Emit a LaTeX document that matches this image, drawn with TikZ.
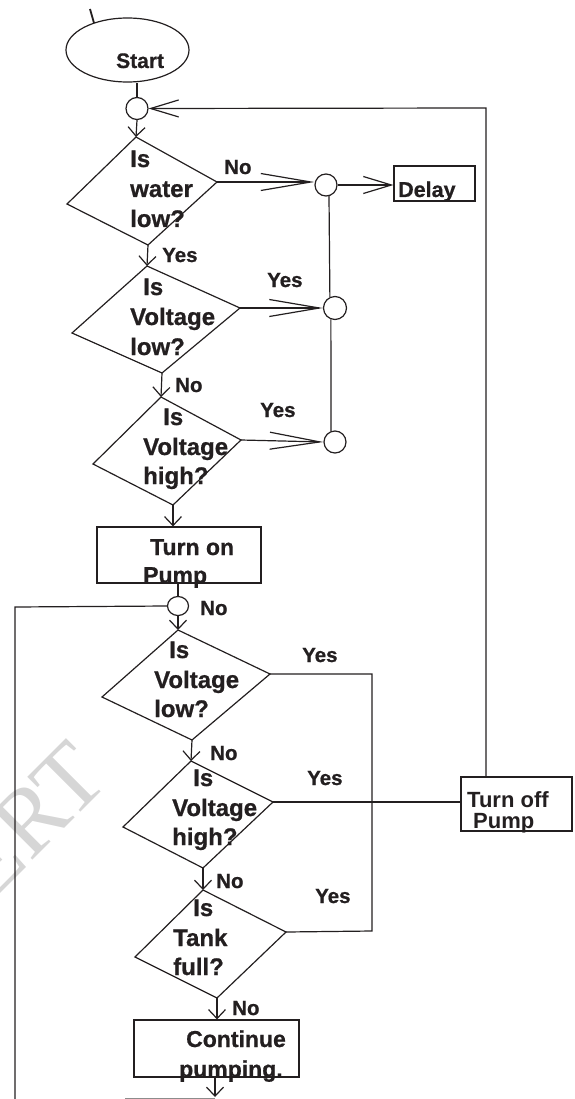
\documentclass[tikz,border=0pt]{standalone}
\usepackage{fontspec}
\setmainfont{Liberation Sans}[BoldFeatures={FakeBold=0.8}]
\newfontfamily\offfont{Liberation Sans}
\newfontfamily\wmfont{Liberation Serif}
\usetikzlibrary{arrows.meta,shapes.geometric,calc}
\definecolor{ink}{HTML}{231F20}
\tikzset{
  line/.style={draw=ink, line width=1.2pt},
  arr/.style={-{Straight Barb[length=9pt,width=17pt]}},
  midarr/.style={-{Straight Barb[length=28pt,width=17pt]}},
  longarr/.style={-{Straight Barb[length=50pt,width=17pt]}},
  circ/.style={circle, line, minimum size=22pt, inner sep=0pt},
  boxn/.style={rectangle, line, inner sep=0pt},
  qtxt/.style={anchor=base west, inner sep=0pt, text=ink, font=\bfseries\fontsize{24}{30}\selectfont},
  btxt/.style={anchor=base west, inner sep=0pt, text=ink, font=\bfseries\fontsize{23}{28}\selectfont},
  rtxt/.style={anchor=base west, inner sep=0pt, text=ink, font=\offfont\bfseries\fontsize{22}{26}\selectfont},
  stxt/.style={anchor=base west, inner sep=0pt, text=ink, font=\bfseries\fontsize{21}{26}\selectfont},
  lbl/.style={anchor=base west, inner sep=0pt, text=ink, font=\bfseries\fontsize{20.5}{24}\selectfont},
  wm/.style={inner sep=0pt, text=black!16, font=\wmfont\fontsize{95}{100}\selectfont}
}
\begin{document}
\begin{tikzpicture}[x=1pt,y=-1pt]
\useasboundingbox (0,0) rectangle (574,1099);
% watermark
\node[wm, rotate=45, anchor=base east] (wmark) at (112,781) {NCERT};

% small tick at top
\coordinate (tk1) at (90,9);
\coordinate (tk2) at (94,23);
\draw[line, line width=1.8pt] (tk1) -- (tk2);

% start
\node[ellipse, line, minimum width=123pt, minimum height=64pt, inner sep=0pt] (start) at (127.5,50) {};
\node[stxt] (starttxt) at (116,68) {Start};

% circles
\node[circ] (c1) at (137,108.5) {};
\node[circ] (c2) at (326,185) {};
\node[circ, minimum size=23pt] (c3) at (335,308) {};
\node[circ] (c4) at (335,442) {};
\node[circ, minimum width=21pt, minimum height=19pt, ellipse] (c5) at (178,606) {};

% diamonds
\coordinate (d1t) at (136,137); \coordinate (d1r) at (217,182);
\coordinate (d1b) at (148,245); \coordinate (d1l) at (67,204);
\coordinate (d2t) at (147,266); \coordinate (d2r) at (240,308);
\coordinate (d2b) at (162,373); \coordinate (d2l) at (72,333);
\coordinate (d3t) at (161,397); \coordinate (d3r) at (241,440);
\coordinate (d3b) at (173,505); \coordinate (d3l) at (93,464);
\coordinate (d4t) at (178,630); \coordinate (d4r) at (270,674);
\coordinate (d4b) at (192,740); \coordinate (d4l) at (102,697);
\coordinate (d5t) at (191,761); \coordinate (d5r) at (273,802);
\coordinate (d5b) at (203,868); \coordinate (d5l) at (123,827);
\coordinate (d6t) at (203,890); \coordinate (d6r) at (286,932);
\coordinate (d6b) at (217,998); \coordinate (d6l) at (135,957);
\draw[line] (d1t) -- (d1r) -- (d1b) -- (d1l) -- cycle;
\draw[line] (d2t) -- (d2r) -- (d2b) -- (d2l) -- cycle;
\draw[line] (d3t) -- (d3r) -- (d3b) -- (d3l) -- cycle;
\draw[line] (d4t) -- (d4r) -- (d4b) -- (d4l) -- cycle;
\draw[line] (d5t) -- (d5r) -- (d5b) -- (d5l) -- cycle;
\draw[line] (d6t) -- (d6r) -- (d6b) -- (d6l) -- cycle;

% boxes
\node[boxn, minimum width=81pt, minimum height=35pt] (delay) at (434.5,183.5) {};
\node[boxn, minimum width=164pt, minimum height=56pt] (onbox) at (179,555) {};
\node[boxn, minimum width=111pt, minimum height=54pt] (offbox) at (516.5,804) {};
\node[boxn, minimum width=165pt, minimum height=57pt] (contbox) at (216.5,1048.5) {};

% texts in diamonds
\node[qtxt] (q1a) at (130,167) {Is};
\node[qtxt] (q1b) at (130,197) {water};
\node[qtxt] (q1c) at (130,227) {low?};
\node[qtxt] (q2a) at (143,295) {Is};
\node[qtxt] (q2b) at (130,325) {Voltage};
\node[qtxt] (q2c) at (130,355) {low?};
\node[qtxt] (q3a) at (163,425) {Is};
\node[qtxt] (q3b) at (143,455) {Voltage};
\node[qtxt] (q3c) at (143,484) {high?};
\node[qtxt] (q4a) at (169,658) {Is};
\node[qtxt] (q4b) at (154,688) {Voltage};
\node[qtxt] (q4c) at (154,717) {low?};
\node[qtxt] (q5a) at (193,786) {Is};
\node[qtxt] (q5b) at (172,816) {Voltage};
\node[qtxt] (q5c) at (172,845) {high?};
\node[qtxt] (q6a) at (193,916) {Is};
\node[qtxt] (q6b) at (173,946) {Tank};
\node[qtxt] (q6c) at (173,975) {full?};

% texts in boxes
\node[stxt, font=\bfseries\fontsize{21.5}{26}\selectfont] (delaytxt) at (398,197) {Delay};
\node[btxt] (ontxta) at (150,555) {Turn on};
\node[btxt] (ontxtb) at (143,583) {Pump};
\node[rtxt] (offtxta) at (467,807) {Turn off};
\node[rtxt] (offtxtb) at (473,828) {Pump};
\node[btxt] (conttxta) at (186,1047) {Continue};
\node[btxt] (conttxtb) at (179,1077) {pumping.};

% labels
\node[lbl] (l1) at (224,174) {No};
\node[lbl] (l2) at (162,262) {Yes};
\node[lbl] (l3) at (267,287) {Yes};
\node[lbl] (l4) at (175,392) {No};
\node[lbl] (l5) at (260,417) {Yes};
\node[lbl] (l6) at (200,615) {No};
\node[lbl] (l7) at (302,662) {Yes};
\node[lbl] (l8) at (210,760) {No};
\node[lbl] (l9) at (307,785) {Yes};
\node[lbl] (l10) at (216,888) {No};
\node[lbl] (l11) at (315,903) {Yes};
\node[lbl] (l12) at (232,1015) {No};

% connectors
\draw[line] (c1.north |- start.south) -- (c1.north);
\draw[line, arr] (c1.south) -- (d1t);
\draw[line, longarr] (d1r) -- (d1r -| c2.west);
\draw[line, midarr] (c2.east) -- (c2.east -| delay.west);
\draw[line] (c2.-75) -- (c3.115);
\draw[line, longarr] (d2r) -- (c3.west);
\draw[line] (c3.-110) -- (c4.110);
\draw[line, longarr] (d3r) -- (c4.west);
\draw[line, arr] (d1b) -- (d2t);
\draw[line, arr] (d2b) -- (d3t);
\draw[line, arr] (d3b) -- (d3b |- onbox.north);
\draw[line] (onbox.south -| c5.north) -- (c5.north);
\draw[line, arr] (c5.south) -- (d4t);
\coordinate (lp1) at (15,607);
\coordinate (lp2) at (15,1099);
\draw[line] (c5.west) -- (lp1) -- (lp2);
\draw[line, arr] (d4b) -- (d5t);
\draw[line, arr] (d5b) -- (d6t);
\draw[line, arr] (d6b) -- (d6b |- contbox.north);
\coordinate (cend) at (215,1097);
\draw[line, arr] (cend |- contbox.south) -- (cend);
\coordinate (lp0) at (125,1098.5);
\draw[draw=black!45, line width=0.9pt] (lp0) -- (cend |- lp0);
\coordinate (ya) at (372,674);
\coordinate (yb) at (372,931);
\draw[line] (d4r) -- (ya) -- (yb) -- (d6r);
\draw[line] (d5r) -- (d5r -| offbox.west);
\coordinate (ra) at (486,108);
\draw[line, midarr] (offbox.north -| ra) -- (ra) -- (c1.east);
\end{tikzpicture}
\end{document}
